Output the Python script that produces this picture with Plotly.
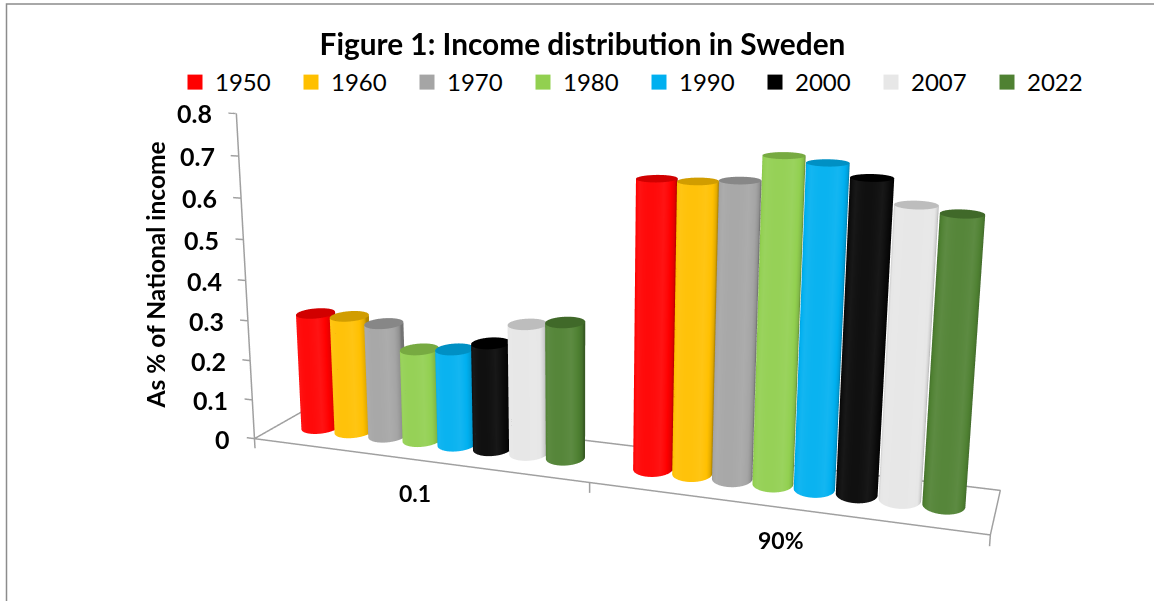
import numpy as np
import plotly.graph_objects as go

categories = ["0.1", "90%"]
years = ["1950", "1960", "1970", "1980", "1990", "2000", "2007", "2022"]
share_bottom = [0.296, 0.297, 0.287, 0.231, 0.240, 0.264, 0.319, 0.332]
share_top = [0.680, 0.679, 0.686, 0.745, 0.734, 0.707, 0.655, 0.642]
colors = ["#FF0000", "#FFC000", "#A5A5A5", "#92D050", "#00B0F0", "#000000", "#E7E7E7", "#4F8132"]
value_ticks = [0, 0.1, 0.2, 0.3, 0.4, 0.5, 0.6, 0.7, 0.8]
value_labels = ["0", "0.1", "0.2", "0.3", "0.4", "0.5", "0.6", "0.7", "0.8"]

xa, xb, ya, yb = -0.5, 1.5, -0.25, 0.25
xr = [xa - 0.03, xb + 0.01]
yr = [ya - 0.01, yb + 0.01]
zr = [-0.03, 0.8]
W = 0.1075
# the figure is laid out twice the window size and centred on it: this gives the longer lens of the original
FW, FH = 2308, 1202
AX, AY, AZ = 2.00985, 0.31314, 0.9325
EYE = dict(x=1.1710, y=-3.4253, z=0.8937)
CENTER = dict(x=-0.0768, y=-0.0073, z=0.0025)
UP = dict(x=0.0008, y=0, z=1)


def px(v):
    return (v + 577) / FW


def py(v):
    return 1 - (v + 300.5) / FH


def shade(hex_c, f):
    c = [int(hex_c[i:i + 2], 16) for i in (1, 3, 5)]
    c = [v * f if f < 1 else v + (255 - v) * (f - 1) for v in c]
    return "rgb(%d,%d,%d)" % tuple(c)


fig = go.Figure()
theta = np.linspace(0, 2 * np.pi, 145)
Rx = W / 2 * 0.96
Ry = (W / 2 * AX / (xr[1] - xr[0])) / AY * (yr[1] - yr[0]) * 1.15
phi = np.arctan2(EYE["y"] / AY, EYE["x"] / AX)
flat = dict(ambient=1, diffuse=0, specular=0, fresnel=0)
for gi, vv in enumerate([share_bottom, share_top]):
    for i, (v, col) in enumerate(zip(vv, colors)):
        bx = gi + (i - 3.5) * W
        X = np.outer(bx + Rx * np.cos(theta), np.ones(2))
        Y = np.outer(Ry * np.sin(theta), np.ones(2))
        Z = np.outer(np.ones(145), [0, v])
        sc = np.outer(np.clip(np.cos(theta - phi), 0, 1), np.ones(2))
        cs = [[0, shade(col, 0.7)], [0.2, shade(col, 0.88)], [0.5, shade(col, 1.0)], [0.8, shade(col, 1.08)], [1, shade(col, 1.04)]]
        if col == "#000000":
            cs = [[0, "#000000"], [0.5, "#0c0c0c"], [0.8, "#181818"], [1, "#101010"]]
        fig.add_trace(go.Surface(x=X, y=Y, z=Z, surfacecolor=sc, cmin=0, cmax=1, colorscale=cs, showscale=False,
                                 lighting=flat, hoverinfo="skip", name=years[i]))
        rr = np.array([0, 1.0])
        XC = bx + Rx * np.outer(np.cos(theta), rr)
        YC = Ry * np.outer(np.sin(theta), rr)
        fig.add_trace(go.Surface(x=XC, y=YC, z=np.full_like(XC, v), surfacecolor=np.zeros_like(XC), cmin=-1, cmax=1,
                                 colorscale=[[0, shade(col, 0.82)], [1, shade(col, 0.82)]], showscale=False,
                                 lighting=flat, hoverinfo="skip"))

gray = dict(color="#a0a0a0", width=3)
fig.add_trace(go.Scatter3d(x=[xa, xb, xb, xa, xa], y=[ya, ya, yb, yb, ya], z=[0] * 5, mode="lines", line=gray, hoverinfo="skip", showlegend=False))
fig.add_trace(go.Scatter3d(x=[xa, xa], y=[ya, ya], z=[0, 0.8], mode="lines", line=gray, hoverinfo="skip", showlegend=False))
for t in value_ticks:
    fig.add_trace(go.Scatter3d(x=[xa - 0.025, xa], y=[ya, ya], z=[t, t], mode="lines", line=gray, hoverinfo="skip", showlegend=False))
for xt in [xa, 0.5, xb]:
    fig.add_trace(go.Scatter3d(x=[xt, xt], y=[ya, ya], z=[-0.025, 0], mode="lines", line=gray, hoverinfo="skip", showlegend=False))
for y, col in zip(years, colors):
    fig.add_trace(go.Scatter(x=[None], y=[None], mode="markers", name=y, marker=dict(symbol="square", size=15, color=col)))

hidden = dict(visible=False)
sa = [dict(x=xa, y=ya, z=t, text="<b>%s</b>" % lab, showarrow=False, xanchor="right", xshift=-22, font=dict(size=25, color="black"))
      for t, lab in zip(value_ticks, value_labels)]
sa += [dict(x=g, y=ya, z=0, text="<b>%s</b>" % categories[g], showarrow=False, yshift=-33, font=dict(size=23, color="black")) for g in range(2)]
fig.update_layout(
    width=FW, height=FH, autosize=False, margin=dict(l=0, r=0, t=0, b=0), paper_bgcolor="white", plot_bgcolor="white",
    font=dict(family="Lato", color="black"),
    title=dict(text="<b>Figure 1: Income distribution in Sweden</b>", x=px(582.5), xanchor="center", y=py(44), yanchor="middle", font=dict(size=29.8)),
    legend=dict(orientation="h", x=px(175), xanchor="left", y=py(82), yanchor="middle", font=dict(size=24), entrywidth=71, entrywidthmode="pixels"),
    xaxis=hidden, yaxis=hidden,
    scene=dict(domain=dict(x=[0, 1], y=[0, 1]), aspectmode="manual", aspectratio=dict(x=AX, y=AY, z=AZ),
               camera=dict(eye=EYE, center=CENTER, up=UP),
               xaxis=dict(range=xr, visible=False), yaxis=dict(range=yr, visible=False), zaxis=dict(range=zr, visible=False),
               annotations=sa),
    annotations=[dict(x=px(155), y=py(275), xref="paper", yref="paper", xanchor="center", yanchor="middle",
                      text="<b>As % of National income</b>", textangle=-90, showarrow=False, font=dict(size=24.5))],
    shapes=[dict(type="rect", xref="paper", yref="paper", x0=px(6.5), x1=px(1250), y0=py(3.5), y1=py(700), line=dict(color="#8c8c8c", width=1.5))],
)
fig.write_html("out.html", config=dict(displayModeBar=False),
               post_script="document.documentElement.style.overflow='hidden';document.body.style.overflow='hidden';document.body.style.margin='0';var g=document.getElementsByClassName('plotly-graph-div')[0];g.style.position='absolute';g.style.left='-577px';g.style.top='-300.5px';")
